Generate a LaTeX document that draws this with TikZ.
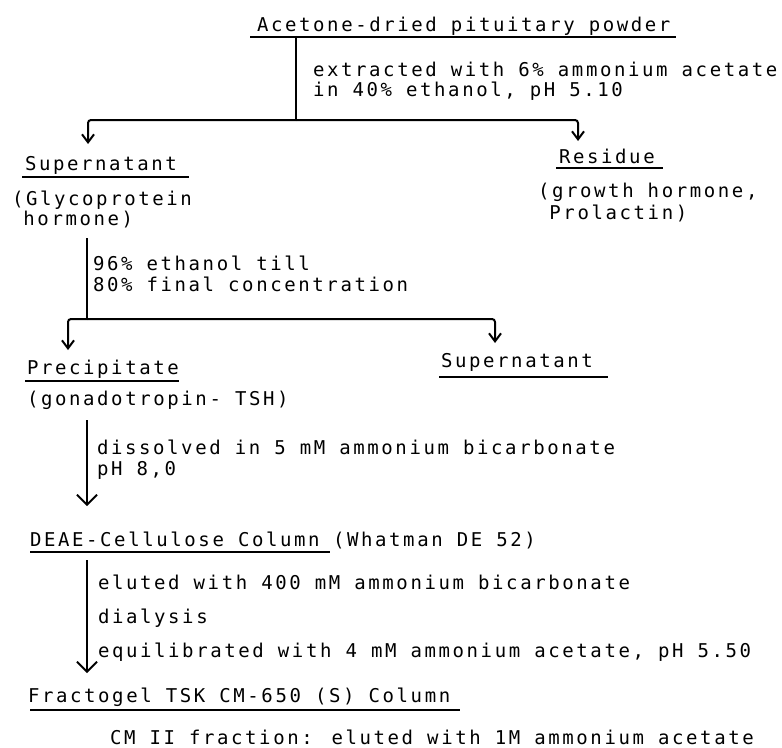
\documentclass[tikz,border=0pt]{standalone}
\usepackage{fontspec}
\newfontfamily\tw[LetterSpace=13.7]{DejaVu Sans Mono}
\usetikzlibrary{arrows.meta}
\tikzset{
  txt/.style={inner sep=0pt, outer sep=0pt, anchor=base west, align=left,
    font={\tw\fontsize{19bp}{20bp}\selectfont}},
  lsp/.style={font={\tw\fontsize{19bp}{#1}\selectfont}},
  uline/.style={line width=2.3bp},
  conn/.style={line width=1.6bp},
  split/.style={line width=2bp, rounded corners=3bp, -{Straight Barb[length=8bp,width=12bp]}},
  down/.style={line width=1.8bp, -{Straight Barb[length=10bp,width=20bp]}},
}
\begin{document}
\begin{tikzpicture}[x=1bp,y=-1bp]
\useasboundingbox[fill=white] (0,0) rectangle (782,748);

% texts (multi-line nodes: base = last line)
\node[txt] (title) at (257,32) {Acetone-dried pituitary powder};
\node[txt, lsp=19bp] (ext) at (313,96) {extracted with 6\% ammonium acetate\\in 40\% ethanol, pH 5.10};
\node[txt] (sup1) at (25,170) {Supernatant};
\node[txt, lsp=20bp] (glyco) at (12,225) {(Glycoprotein\\\hphantom{(}hormone)};
\node[txt] (res) at (559,163) {Residue};
\node[txt, lsp=22bp] (growth) at (538,219) {(growth hormone,\\\hphantom{(}Prolactin)};
\node[txt, lsp=21bp] (eth) at (93,291) {96\% ethanol till\\80\% final concentration};
\node[txt] (prec) at (27,374) {Precipitate};
\node[txt] (sup2) at (441,367) {Supernatant};
\node[txt] (gona) at (27,405) {(gonadotropin- TSH)};
\node[txt, lsp=21bp] (diss) at (97,475) {dissolved in 5 mM ammonium bicarbonate\\pH 8,0};
\node[txt] (deae) at (30,546) {DEAE-Cellulose Column};
\node[txt] (what) at (333,546) {(Whatman DE 52)};
\node[txt, lsp=34bp] (elu) at (98,657) {eluted with 400 mM ammonium bicarbonate\\dialysis\\equilibrated with 4 mM ammonium acetate, pH 5.50};
\node[txt] (frac) at (28,702) {Fractogel TSK CM-650 (S) Column};
\node[txt] (cm) at (110,744) {CM II fraction: eluted with 1M ammonium acetate};

% underlines
\draw[uline] ([xshift=-7bp,yshift=-5bp]title.base west) -- ([xshift=6bp,yshift=-5bp]title.base east);
\draw[uline] ([xshift=-3bp,yshift=-7bp]sup1.base west) -- ([xshift=12bp,yshift=-7bp]sup1.base east);
\draw[uline] ([xshift=-3bp,yshift=-5bp]res.base west) -- ([xshift=8bp,yshift=-5bp]res.base east);
\draw[uline] ([xshift=-2bp,yshift=-7bp]prec.base west) -- ([xshift=0bp,yshift=-7bp]prec.base east);
\draw[uline] ([xshift=-2bp,yshift=-10bp]sup2.base west) -- ([xshift=15bp,yshift=-10bp]sup2.base east);
\draw[uline] ([xshift=0bp,yshift=-6bp]deae.base west) -- ([xshift=10bp,yshift=-6bp]deae.base east);
\draw[uline] ([xshift=2bp,yshift=-8bp]frac.base west) -- ([xshift=10bp,yshift=-8bp]frac.base east);

% connector points
\coordinate (j1) at (296,120);
\coordinate (t1L) at (88,144);
\coordinate (t1R) at (578,141);
\coordinate (s1) at (87,238);
\coordinate (j2) at (87,319);
\coordinate (t2L) at (68,350);
\coordinate (t2R) at (495,343);
\coordinate (g1) at (87,420);
\coordinate (g2) at (87,506);
\coordinate (d1) at (87,560);
\coordinate (d2) at (87,673);

% connectors
\draw[conn] (title.south -| j1) -- (j1);
\draw[split] (j1) -| (t1L);
\draw[split] (j1) -| (t1R);
\draw[conn] (s1) -- (j2);
\draw[split] (j2) -| (t2L);
\draw[split] (j2) -| (t2R);
\draw[down] (g1) -- (g2);
\draw[down] (d1) -- (d2);
\end{tikzpicture}
\end{document}
